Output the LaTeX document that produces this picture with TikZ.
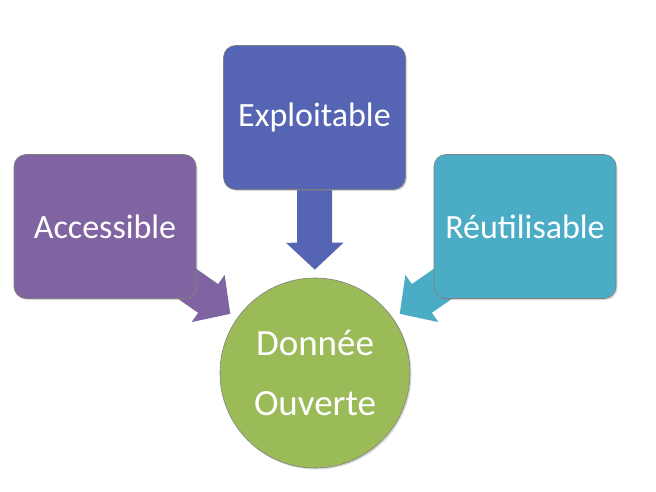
\documentclass[tikz,border=0pt]{standalone}
\usepackage{fontspec}
\setmainfont{Carlito}
\usetikzlibrary{arrows.meta,backgrounds,shadows}
\definecolor{accpurple}{HTML}{8064A2}
\definecolor{exploitblue}{HTML}{5565B3}
\definecolor{reuseteal}{HTML}{4BACC6}
\definecolor{opengreen}{HTML}{9BBB59}
\begin{document}
\begin{tikzpicture}[x=1pt, y=-1pt,
  box/.style={draw=black!50, line width=0.6pt, rounded corners=12pt,
    minimum width=182pt, minimum height=144pt, text=white,
    font=\fontsize{34}{40}\selectfont,
    drop shadow={opacity=0.3, shadow xshift=1.5pt, shadow yshift=-1.5pt}},
  bigarrow/.style={line width=35pt, -{Triangle[length=27pt, width=56pt]},
    shorten >=8pt}]
\useasboundingbox (0,0) rectangle (656,492);
\node (access) [box, fill=accpurple] at (105,226.5) {Accessible};
\node (exploit) [box, fill=exploitblue] at (314.5,117.5) {Exploitable};
\node (reuse) [box, fill=reuseteal] at (525,226.5) {Réutilisable};
\node (data) [circle, draw=black!50, line width=0.6pt, fill=opengreen,
  minimum size=190pt, text=white, align=center,
  font=\fontsize{37}{60}\selectfont,
  drop shadow={opacity=0.3, shadow xshift=1.5pt, shadow yshift=-1.5pt}]
  at (315,373) {Donnée\\Ouverte};
\begin{scope}[on background layer]
\draw[bigarrow, accpurple] (access.center) -- (data);
\draw[bigarrow, exploitblue] (exploit.center) -- (data);
\draw[bigarrow, reuseteal] (reuse.center) -- (data);
\end{scope}
\end{tikzpicture}
\end{document}
